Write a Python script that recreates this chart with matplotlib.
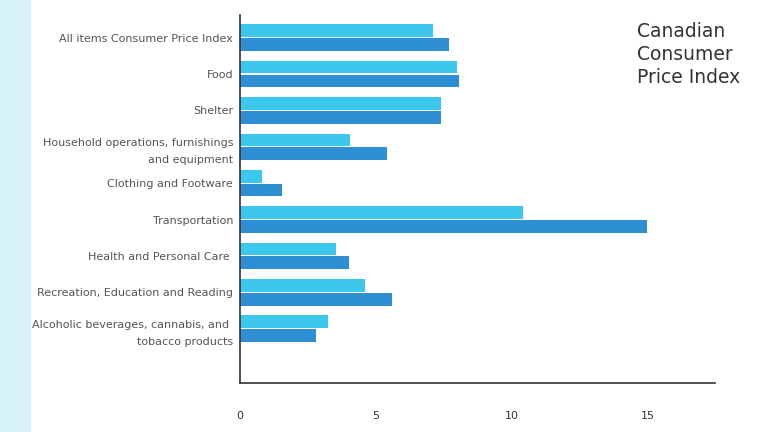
import matplotlib.pyplot as plt
import numpy as np

categories = [
    'All items Consumer Price Index',
    'Food',
    'Shelter',
    'Household operations, furnishings\nand equipment',
    'Clothing and Footware',
    'Transportation',
    'Health and Personal Care ',
    'Recreation, Education and Reading',
    'Alcoholic beverages, cannabis, and \ntobacco products',
]
series_a = [7.1, 8.0, 7.4, 4.05, 0.8, 10.4, 3.55, 4.6, 3.25]
series_b = [7.7, 8.05, 7.4, 5.4, 1.55, 15.0, 4.0, 5.6, 2.8]
xticks = [0, 5, 10, 15]

fig = plt.figure(figsize=(7.68, 4.32), dpi=100)
fig.patch.set_facecolor('white')
# light strip on the left edge
fig.patches.append(plt.Rectangle((0, 0), 30 / 768, 1, transform=fig.transFigure,
                                 color='#d7f2f9', zorder=0))

ax = fig.add_axes([0.3125, 0.113, 0.619, 0.852])
y = np.arange(len(categories))
h = 0.35
ax.barh(y - 0.19, series_a, height=h, color='#3cc8ed')
ax.barh(y + 0.19, series_b, height=h, color='#2e8fd5')

ax.set_xlim(0, 17.5)
ax.set_ylim(9.5, -0.62)
ax.set_yticks(y)
ax.set_yticklabels(categories, fontsize=8, color='#555555', linespacing=1.9)
ax.set_xticks(xticks)
ax.set_xticklabels([str(t) for t in xticks], fontsize=8, color='#333333')
ax.tick_params(axis='y', length=0, pad=5)
ax.tick_params(axis='x', length=0, pad=20)
for s in ['top', 'right']:
    ax.spines[s].set_visible(False)
for s in ['left', 'bottom']:
    ax.spines[s].set_color('#333333')
    ax.spines[s].set_linewidth(1.2)

fig.text(0.829, 0.948, 'Canadian\nConsumer\nPrice Index', fontsize=13.5, color='#333333',
         va='top', ha='left', linespacing=1.25)

plt.savefig('out.png', dpi=100)
